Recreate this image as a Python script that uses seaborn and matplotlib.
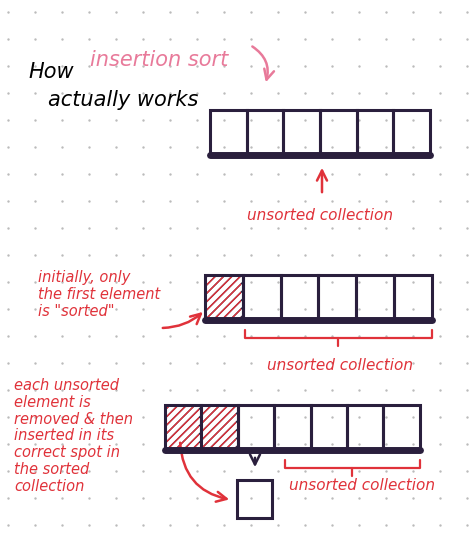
import matplotlib
matplotlib.use("Agg")
import matplotlib.pyplot as plt
import matplotlib.patches as mp
import seaborn as sns
import numpy as np

sns.set_style("white")
plt.rcParams['font.family'] = ['DejaVu Sans']

# arrays: (x_left, y_top, cell_width, height, n_cells, n_hatched)
arrays = [(210, 110, 36.7, 45, 6, 0),
          (205, 275, 37.8, 45, 6, 1),
          (165, 405, 36.4, 45, 7, 2)]
labels = ["unsorted collection", "unsorted collection", "unsorted collection"]
label_pos = [(320, 215), (340, 365), (362, 485)]
notes = ["initially, only\nthe first element\nis \"sorted\"",
         "each unsorted\nelement is\nremoved & then\ninserted in its\ncorrect spot in\nthe sorted\ncollection"]
note_pos = [(38, 270), (14, 378)]
RED = "#e0323a"
INK = "#2a1f3d"

fig = plt.figure(figsize=(4.74, 5.46), dpi=100)
ax = fig.add_axes([0, 0, 1, 1])
ax.set_xlim(0, 474); ax.set_ylim(546, 0); ax.axis("off")

gx, gy = np.meshgrid(np.arange(8, 474, 27), np.arange(12, 546, 27))
sns.scatterplot(x=gx.ravel(), y=gy.ravel(), s=3, color="#bbbbbb", ax=ax, legend=False, linewidth=0)

for (x0, y0, w, h, n, nh) in arrays:
    for i in range(n):
        hatched = i < nh
        ax.add_patch(mp.Rectangle((x0 + i * w, y0), w, h, fill=hatched,
                                  facecolor="white", edgecolor=INK, lw=2.2,
                                  hatch="////" if hatched else None, zorder=3))
    for i in range(nh):
        ax.add_patch(mp.Rectangle((x0 + i * w + 2, y0 + 2), w - 4, h - 4, fill=False,
                                  edgecolor=RED, lw=0, hatch="////", zorder=4))
    ax.plot([x0, x0 + n * w], [y0 + h, y0 + h], color=INK, lw=5, zorder=5)
plt.rcParams['hatch.color'] = RED
plt.rcParams['hatch.linewidth'] = 1.5

# small box
ax.add_patch(mp.Rectangle((237, 480), 35, 38, fill=False, edgecolor=INK, lw=2.2))

ax.text(28, 72, "How", fontsize=15, color="black", va="center", style="italic")
ax.text(90, 60, "insertion sort", fontsize=15, color="#e87a9a", va="center", style="italic")
ax.text(48, 100, "actually works", fontsize=15, color="black", va="center", style="italic")

for t, (x, y) in zip(labels, label_pos):
    ax.text(x, y, t, fontsize=11, color=RED, ha="center", va="center", style="italic")
for t, (x, y) in zip(notes, note_pos):
    ax.text(x, y, t, fontsize=10.5, color=RED, ha="left", va="top", style="italic", linespacing=1.15)

arr = dict(arrowstyle="->", color=RED, lw=1.8, mutation_scale=18)
ax.annotate("", xy=(265, 85), xytext=(250, 45), arrowprops=dict(arr, color="#e87a9a", connectionstyle="arc3,rad=-0.4"))
ax.annotate("", xy=(322, 165), xytext=(322, 195), arrowprops=arr)
ax.annotate("", xy=(205, 310), xytext=(160, 328), arrowprops=dict(arr, connectionstyle="arc3,rad=0.2"))
ax.annotate("", xy=(232, 500), xytext=(180, 440), arrowprops=dict(arr, connectionstyle="arc3,rad=0.4"))
ax.annotate("", xy=(255, 470), xytext=(255, 455), arrowprops=dict(arr, color=INK))

# brackets
for (a, b, y) in [(245, 432, 330), (285, 420, 460)]:
    ax.plot([a, a, b, b], [y, y + 8, y + 8, y], color=RED, lw=1.6)
    ax.plot([(a + b) / 2] * 2, [y + 8, y + 16], color=RED, lw=1.6)

fig.savefig("out.png", dpi=100)
